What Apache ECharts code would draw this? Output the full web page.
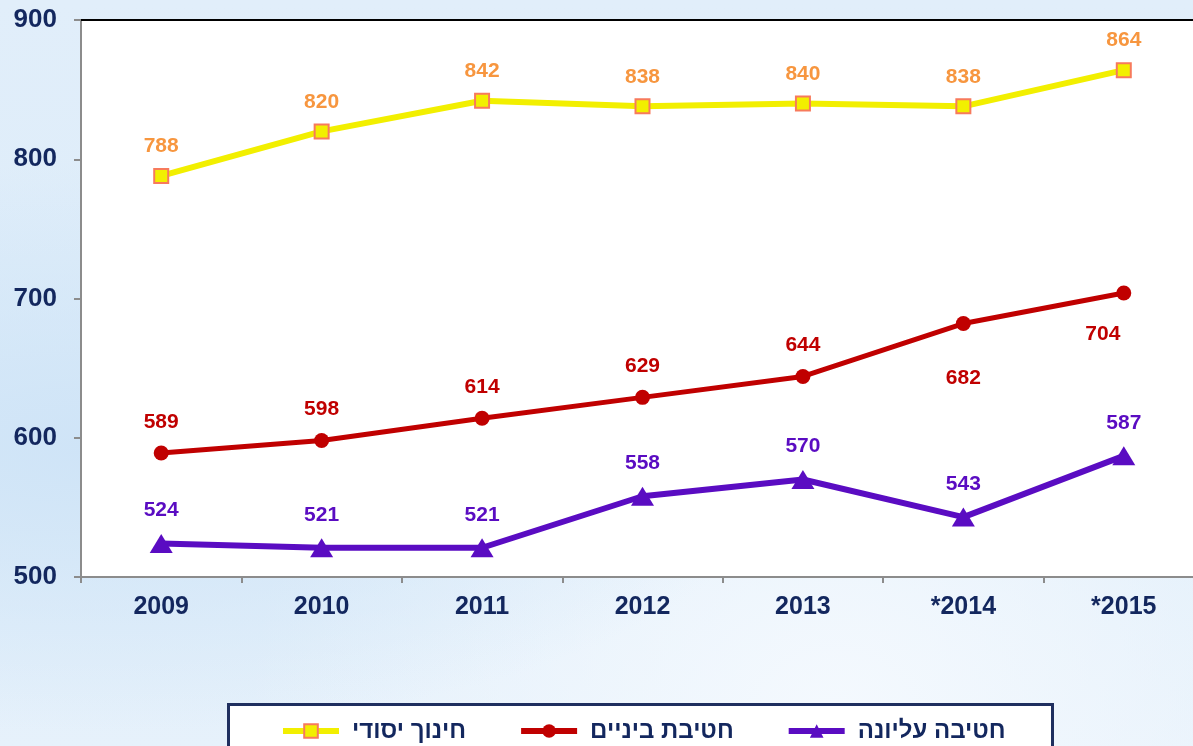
<!DOCTYPE html>
<html>
<head>
<meta charset="utf-8">
<script src="https://cdn.jsdelivr.net/npm/echarts@6/dist/echarts.min.js"></script>
<style>
  html, body { margin: 0; padding: 0; }
  body {
    width: 1193px; height: 746px; overflow: hidden;
    background:
      radial-gradient(ellipse at 8% 60%, #cfe4f7 0%, rgba(207,228,247,0) 45%),
      radial-gradient(ellipse at 70% 95%, #f4f9fe 0%, rgba(244,249,254,0) 50%),
      linear-gradient(180deg, #e1eefa 0%, #dcecf9 60%, #e6f1fb 100%);
  }
  #chart { width: 1204px; height: 746px; }
</style>
</head>
<body>
<div id="chart"></div>
<script>
const years = ['2009', '2010', '2011', '2012', '2013', '*2014', '*2015'];
const seriesNames = ['חינוך יסודי', 'חטיבת ביניים', 'חטיבה עליונה'];
const elementary = [788, 820, 842, 838, 840, 838, 864];
const middle = [589, 598, 614, 629, 644, 682, 704];
const high = [524, 521, 521, 558, 570, 543, 587];

const chart = echarts.init(document.getElementById('chart'), null, { renderer: 'canvas' });

const navy = '#13275e';
const font = 'Arial, "Liberation Sans", sans-serif';

function labelStyle(color, distance) {
  return {
    show: true,
    position: 'top',
    distance,
    color,
    fontSize: 21,
    fontWeight: 'bold',
    fontFamily: font,
  };
}

// the last two middle-school labels sit under their markers
const middleData = middle.map((v, i) => {
  if (i === 5) return { value: v, label: { position: 'bottom', distance: 37 } };
  if (i === 6) return { value: v, label: { position: 'bottom', distance: 23, offset: [-21, 0] } };
  return v;
});

chart.setOption({
  backgroundColor: 'transparent',
  animation: false,
  grid: {
    left: 81, right: 0, top: 20, bottom: 169,
    show: true, backgroundColor: '#ffffff', borderWidth: 0,
  },
  xAxis: [{
    type: 'category',
    data: years,
    boundaryGap: true,
    axisLine: { lineStyle: { color: '#8c8c8c', width: 2 } },
    axisTick: { show: true, length: 6, lineStyle: { color: '#8c8c8c', width: 2 } },
    axisLabel: { color: navy, fontSize: 25, fontWeight: 'bold', fontFamily: font, margin: 18 },
  }, {
    type: 'category',
    data: years,
    position: 'top',
    axisLine: { lineStyle: { color: '#000000', width: 2 } },
    axisTick: { show: false },
    axisLabel: { show: false },
  }],
  yAxis: {
    type: 'value',
    min: 500,
    max: 900,
    interval: 100,
    axisLine: { show: true, lineStyle: { color: '#8c8c8c', width: 2 } },
    axisTick: { show: true, inside: false, length: 7, lineStyle: { color: '#8c8c8c', width: 2 } },
    splitLine: { show: false },
    axisLabel: { color: navy, fontSize: 26, fontWeight: 'bold', fontFamily: font, margin: 24 },
  },
  graphic: [{
    type: 'rect',
    left: 227, top: 703,
    shape: { width: 824, height: 60 },
    style: { fill: '#ffffff', stroke: '#1f2f5f', lineWidth: 3 },
    z: 0,
  }],
  legend: {
    left: 275,
    top: 714,
    itemGap: 52,
    itemWidth: 56,
    itemHeight: 17,
    data: seriesNames,
    lineStyle: { width: 6 },
    textStyle: {
      color: navy, fontSize: 24, fontWeight: 'bold', fontFamily: font,
      padding: [0, 0, 0, 8],
    },
    z: 5,
  },
  series: [{
    name: seriesNames[0],
    type: 'line',
    data: elementary,
    symbol: 'rect',
    symbolSize: 14,
    lineStyle: { color: '#f2ef00', width: 6 },
    itemStyle: { color: '#f2ef00', borderColor: '#f77a5c', borderWidth: 2 },
    label: labelStyle('#f7963f', 11),
  }, {
    name: seriesNames[1],
    type: 'line',
    data: middleData,
    symbol: 'circle',
    symbolSize: 15,
    lineStyle: { color: '#c00000', width: 5 },
    itemStyle: { color: '#c00000' },
    label: labelStyle('#c00000', 13),
  }, {
    name: seriesNames[2],
    type: 'line',
    data: high,
    symbol: 'triangle',
    symbolSize: [23, 19],
    lineStyle: { color: '#5a0cc2', width: 6 },
    itemStyle: { color: '#5a0cc2' },
    label: labelStyle('#5a0cc2', 13),
  }],
});
</script>
</body>
</html>
